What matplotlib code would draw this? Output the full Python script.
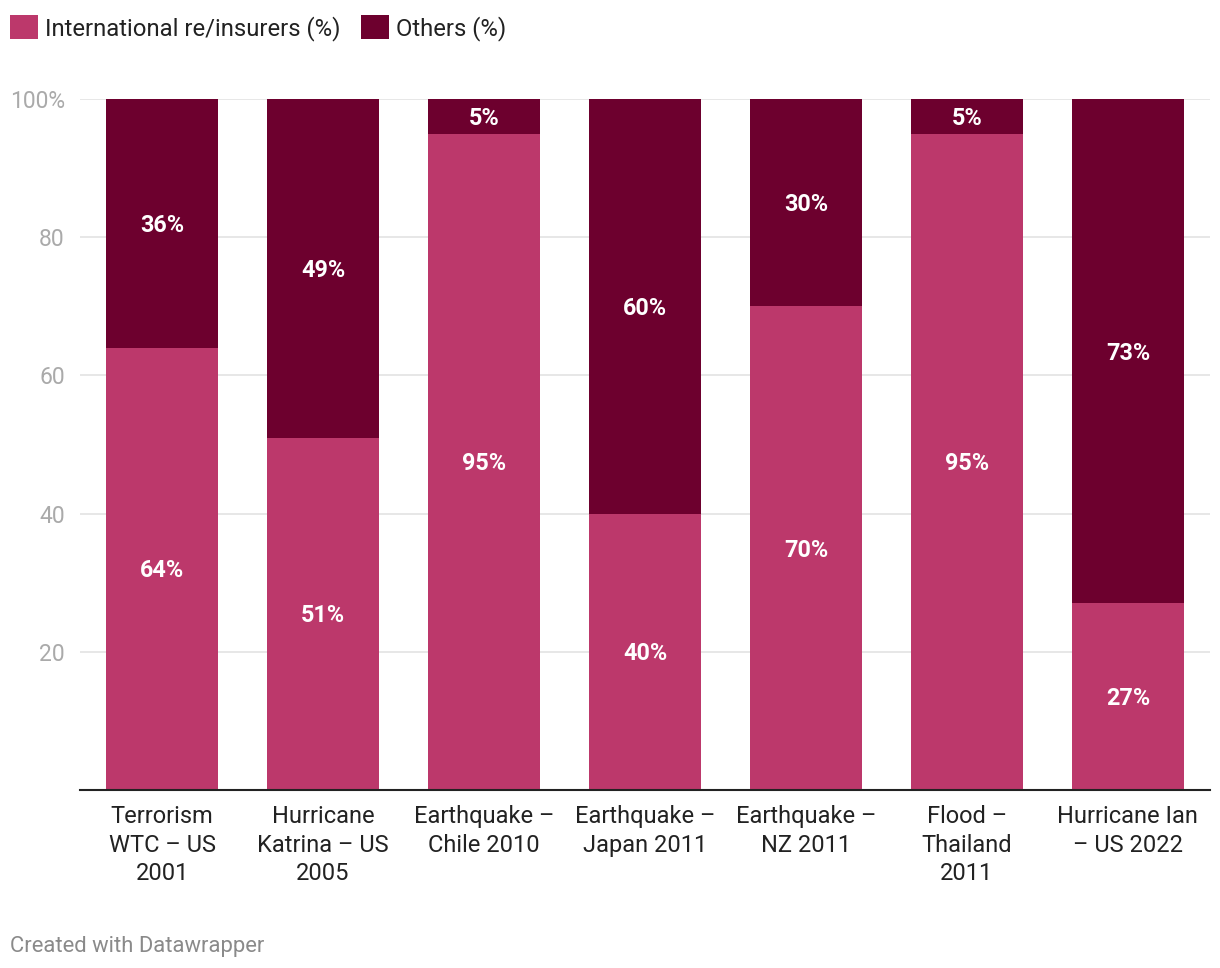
import matplotlib
matplotlib.use("Agg")
import matplotlib.pyplot as plt
import numpy as np

plt.rcParams['font.family'] = ['Roboto', 'DejaVu Sans']

categories = ["Terrorism\nWTC – US\n2001", "Hurricane\nKatrina – US\n2005",
              "Earthquake –\nChile 2010", "Earthquake –\nJapan 2011",
              "Earthquake –\nNZ 2011", "Flood –\nThailand\n2011",
              "Hurricane Ian\n– US 2022"]
intl = [64, 51, 95, 40, 70, 95, 27]
others = [36, 49, 5, 60, 30, 5, 73]
series_names = ["International re/insurers (%)", "Others (%)"]
yticks = [20, 40, 60, 80, 100]
ytick_labels = ["20", "40", "60", "80", "100%"]

c_intl = "#BC386B"
c_oth = "#6D002E"

W, H = 1220, 968
fig = plt.figure(figsize=(W/100, H/100), dpi=100)
ax = fig.add_axes([80/W, 1-790/H, 1130/W, 691/H])

x = np.arange(len(categories))
bw = 0.696
b1 = ax.bar(x, intl, width=bw, color=c_intl, zorder=2)
b2 = ax.bar(x, others, width=bw, bottom=intl, color=c_oth, zorder=2)

for i in range(len(categories)):
    ax.text(x[i], intl[i]/2 - 0.3, f"{intl[i]}%", ha="center", va="center",
            color="white", fontsize=16.8, fontweight="bold", zorder=3)
    ax.text(x[i], intl[i] + others[i]/2 - 0.3, f"{others[i]}%", ha="center", va="center",
            color="white", fontsize=16.8, fontweight="bold", zorder=3)

ax.set_xlim(-0.51, len(categories) - 0.49)
ax.set_ylim(0, 100)
ax.set_yticks(yticks)
ax.set_yticklabels(ytick_labels)
ax.set_xticks(x)
ax.set_xticklabels(categories, fontsize=17, color="#222222", linespacing=1.3)
ax.tick_params(axis="y", length=0, pad=11, labelsize=16.5, labelcolor="#aaaaaa")
ax.tick_params(axis="x", length=0, pad=11)
ax.grid(axis="y", color="#e3e3e3", linewidth=1.2, zorder=0)
for s in ["left", "right", "top"]:
    ax.spines[s].set_visible(False)
ax.spines["bottom"].set_color("#222222")
ax.spines["bottom"].set_linewidth(1.5)
ax.spines["bottom"].set_zorder(4)

leg = fig.legend([b1, b2], series_names, loc="upper left",
                 bbox_to_anchor=(10/W, 1-15/H), frameon=False, ncol=2,
                 fontsize=17.2, handlelength=1.17, handleheight=1.17,
                 handletextpad=0.3, columnspacing=0.85, borderpad=0,
                 borderaxespad=0, labelcolor="#222222")

fig.text(10/W, 1-944/H, "Created with Datawrapper", fontsize=15.8,
         color="#8a8a8a", ha="left", va="center_baseline")

fig.savefig("out.png", dpi=100)
